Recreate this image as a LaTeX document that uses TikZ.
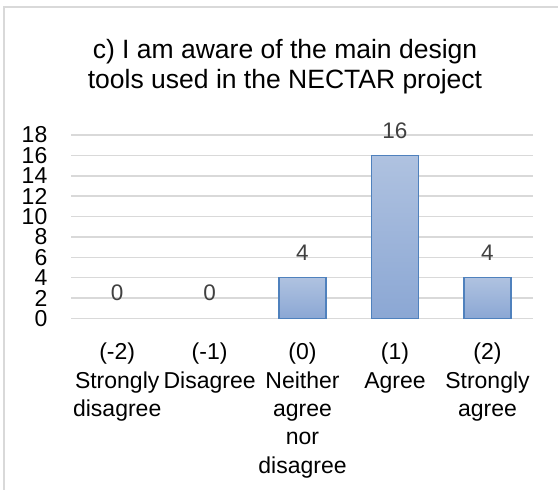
\documentclass[tikz,border=0pt]{standalone}
\usepackage{fontspec}
\setmainfont{Liberation Sans}
\definecolor{gridc}{HTML}{D9D9D9}
\definecolor{framec}{HTML}{D9D9D9}
\definecolor{barline}{HTML}{4F81BD}
\definecolor{bartopc}{HTML}{AFC2E0}
\definecolor{barbotc}{HTML}{8BA7D4}
\definecolor{lbl}{HTML}{404040}
\tikzset{
  gridline/.style={gridc, line width=1.5pt},
  tick/.style={anchor=east, inner sep=0pt, font=\fontsize{23}{23}\selectfont},
  datalbl/.style={anchor=base, inner sep=0pt, text=lbl, font=\fontsize{22.5}{22.5}\selectfont},
  catlbl/.style={anchor=north, inner sep=0pt, align=center, font=\fontsize{23}{28.3}\selectfont},
  barbox/.style={draw=barline, line width=1.5pt, top color=bartopc, bottom color=barbotc},
  titlelbl/.style={anchor=north, inner sep=0pt, align=center, font=\fontsize{26.5}{30.5}\selectfont}
}
\begin{document}
\begin{tikzpicture}[x=1pt,y=-1pt]
\useasboundingbox (0,0) rectangle (558,490);
\fill[white] (0,0) rectangle (558,490);
\draw[framec, line width=1.5pt] (4,500) -- (4,7) -- (570,7);
% title
\node[titlelbl] (title) at (285,39) {c) I am aware of the main design\\tools used in the NECTAR project};
% gridlines and tick labels
\foreach \v in {0,2,...,18} {
  \draw[gridline] (71,{318.5-\v*10.19}) -- (533,{318.5-\v*10.19});
  \node[tick] (t\v) at (47.5,{318.5-\v*10.19}) {\v};
}
% bars
\path[barbox] (279,318.5) rectangle (326,{318.5-4*10.19});
\path[barbox] (371.5,318.5) rectangle (418.5,{318.5-16*10.19});
\path[barbox] (464,318.5) rectangle (511,{318.5-4*10.19});
% data labels
\node[datalbl] (d1) at (117.2,{318.5-18}) {0};
\node[datalbl] (d2) at (209.6,{318.5-18}) {0};
\node[datalbl] (d3) at (302.5,{318.5-4*10.19-17}) {4};
\node[datalbl] (d4) at (395,{318.5-16*10.19-17}) {16};
\node[datalbl] (d5) at (487.5,{318.5-4*10.19-17}) {4};
% category labels
\node[catlbl] (c1) at (117.2,343) {(-2)\\Strongly\\disagree};
\node[catlbl] (c2) at (209.6,343) {(-1)\\Disagree};
\node[catlbl] (c3) at (302.5,343) {(0)\\Neither\\agree\\nor\\disagree};
\node[catlbl] (c4) at (395,343) {(1)\\Agree};
\node[catlbl] (c5) at (487.5,343) {(2)\\Strongly\\agree};
\end{tikzpicture}
\end{document}
